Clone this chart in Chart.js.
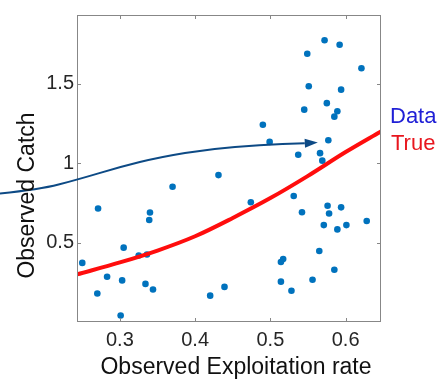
<!DOCTYPE html>
<html>
<head>
<meta charset="utf-8">
<script src="https://cdn.jsdelivr.net/npm/chart.js@4"></script>
<style>
  html, body { margin: 0; padding: 0; background: #fff; }
  #wrap { width: 439px; height: 379px; position: relative; }
</style>
</head>
<body>
<div id="wrap"><canvas id="catchChart"></canvas></div>
<script>
// observed exploitation rate vs observed catch
const obsRate = [0.572, 0.592, 0.549, 0.621, 0.551, 0.594, 0.575, 0.545, 0.589, 0.585,
  0.490, 0.499, 0.577, 0.537, 0.566, 0.569, 0.431, 0.370, 0.271, 0.474,
  0.340, 0.339, 0.305, 0.250, 0.325, 0.336, 0.283, 0.303, 0.270, 0.334,
  0.344, 0.420, 0.439, 0.301, 0.531, 0.542, 0.576, 0.594, 0.578, 0.571,
  0.589, 0.601, 0.628, 0.565, 0.517, 0.514, 0.585, 0.514, 0.556, 0.528];
const obsCatch = [1.774, 1.746, 1.689, 1.598, 1.484, 1.463, 1.378, 1.337, 1.327, 1.293,
  1.242, 1.134, 1.144, 1.053, 1.063, 1.016, 0.925, 0.852, 0.715, 0.754,
  0.689, 0.642, 0.468, 0.372, 0.419, 0.425, 0.285, 0.262, 0.179, 0.240,
  0.205, 0.166, 0.221, 0.041, 0.793, 0.691, 0.732, 0.722, 0.683, 0.610,
  0.583, 0.610, 0.636, 0.447, 0.396, 0.378, 0.329, 0.254, 0.266, 0.197];

// true catch curve
const trueRate = [0.243, 0.30, 0.35, 0.40, 0.45, 0.50, 0.55, 0.60, 0.647];
const trueCatch = [0.30, 0.375, 0.45, 0.54, 0.655, 0.78, 0.92, 1.07, 1.20];

// arrow from the left margin to the data cloud
const arrowRate = [0.1406, 0.194, 0.243, 0.30, 0.353, 0.420, 0.486, 0.546, 0.563];
const arrowCatch = [0.809, 0.835, 0.896, 0.976, 1.038, 1.090, 1.114, 1.126, 1.130];

const xTicks = [0.3, 0.4, 0.5, 0.6];
const yTicks = [0.5, 1, 1.5];

const FONT = "'Liberation Sans', Arial, sans-serif";
const AXIS_GREY = "#878787";

const annotate = {
  id: "annotate",
  afterDatasetsDraw(chart) {
    const c = chart.ctx, a = chart.chartArea;
    const xs = chart.scales.x, ys = chart.scales.y;

    // box and inward ticks
    c.save();
    c.strokeStyle = AXIS_GREY;
    c.lineWidth = 1;
    c.strokeRect(a.left + 0.5, a.top + 0.5, a.right - a.left - 1, a.bottom - a.top - 1);
    const tl = 4;
    c.beginPath();
    xTicks.forEach(v => {
      const px = Math.round(xs.getPixelForValue(v)) + 0.5;
      c.moveTo(px, a.bottom); c.lineTo(px, a.bottom - tl);
      c.moveTo(px, a.top); c.lineTo(px, a.top + tl);
    });
    yTicks.forEach(v => {
      const py = Math.round(ys.getPixelForValue(v)) + 0.5;
      c.moveTo(a.left, py); c.lineTo(a.left + tl, py);
      c.moveTo(a.right, py); c.lineTo(a.right - tl, py);
    });
    c.stroke();

    // curved arrow
    const pts = arrowRate.map((r, i) => [xs.getPixelForValue(r), ys.getPixelForValue(arrowCatch[i])]);
    const n = pts.length;
    const tip = pts[n - 1], prev = pts[n - 2];
    const ang = Math.atan2(tip[1] - prev[1], tip[0] - prev[0]);
    const headLen = 13, headW = 4.5;
    const baseX = tip[0] - headLen * Math.cos(ang), baseY = tip[1] - headLen * Math.sin(ang);
    c.strokeStyle = "#0d4a85";
    c.fillStyle = "#0d4a85";
    c.lineWidth = 2;
    c.beginPath();
    c.moveTo(pts[0][0], pts[0][1]);
    for (let i = 1; i < n - 2; i++) {
      const mx = (pts[i][0] + pts[i + 1][0]) / 2, my = (pts[i][1] + pts[i + 1][1]) / 2;
      c.quadraticCurveTo(pts[i][0], pts[i][1], mx, my);
    }
    c.lineTo(baseX, baseY);
    c.stroke();
    c.beginPath();
    c.moveTo(tip[0], tip[1]);
    c.lineTo(baseX - headW * Math.sin(ang), baseY + headW * Math.cos(ang));
    c.lineTo(baseX + headW * Math.sin(ang), baseY - headW * Math.cos(ang));
    c.closePath();
    c.fill();

    // axis titles
    c.fillStyle = "#111";
    c.font = "23px " + FONT;
    c.textAlign = "center";
    c.textBaseline = "alphabetic";
    c.fillText("Observed Exploitation rate", (a.left + a.right) / 2 + 7, chart.height - 5);
    c.save();
    c.translate(34, (a.top + a.bottom) / 2 + 27);
    c.rotate(-Math.PI / 2);
    c.fillText("Observed Catch", 0, 0);
    c.restore();

    // legend words
    c.textAlign = "left";
    c.font = "22px " + FONT;
    c.fillStyle = "#2020d6";
    c.fillText("Data", a.right + 9, 123);
    c.fillStyle = "#e8161e";
    c.fillText("True", a.right + 10, 150);
    c.restore();
  }
};

new Chart(document.getElementById("catchChart"), {
  type: "scatter",
  data: {
    datasets: [
      {
        label: "True",
        data: trueRate.map((r, i) => ({x: r, y: trueCatch[i]})),
        showLine: true,
        borderColor: "#ff0d0d",
        borderWidth: 4,
        pointRadius: 0,
        cubicInterpolationMode: "monotone",
        order: 0
      },
      {
        label: "Data",
        data: obsRate.map((r, i) => ({x: r, y: obsCatch[i]})),
        backgroundColor: "#0072bd",
        borderWidth: 0,
        pointRadius: 3.3,
        order: 1
      }
    ]
  },
  options: {
    responsive: true,
    maintainAspectRatio: false,
    animation: false,
    events: [],
    layout: { padding: { top: 5, right: 58, left: 0, bottom: 0 } },
    plugins: { legend: { display: false }, tooltip: { enabled: false } },
    scales: {
      x: {
        min: 0.243, max: 0.647,
        afterBuildTicks: s => { s.ticks = xTicks.map(v => ({value: v})); },
        afterFit: s => { s.height = 57; },
        grid: { display: false, drawTicks: false },
        border: { display: false },
        ticks: { color: "#262626", font: { family: FONT, size: 20 }, padding: 6, maxRotation: 0,
                 callback: v => String(v) }
      },
      y: {
        min: 0, max: 1.933,
        afterBuildTicks: s => { s.ticks = yTicks.map(v => ({value: v})); },
        afterFit: s => { s.width = 77; },
        grid: { display: false, drawTicks: false },
        border: { display: false },
        ticks: { color: "#262626", font: { family: FONT, size: 20 }, padding: 3,
                 callback: v => String(v) }
      }
    }
  },
  plugins: [annotate]
});
</script>
</body>
</html>
